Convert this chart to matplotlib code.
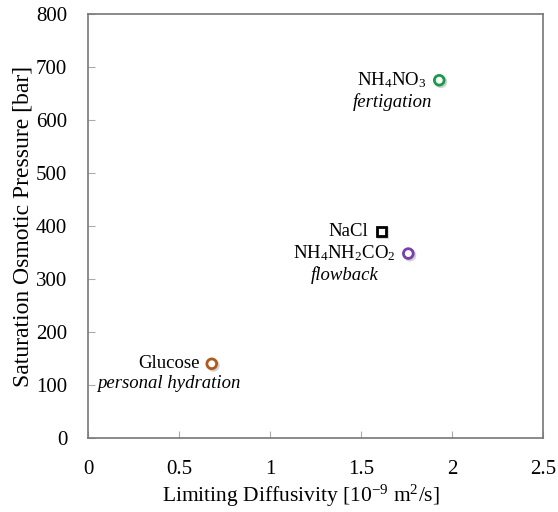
import numpy as np
import matplotlib.pyplot as plt
import matplotlib.patheffects as pe

plt.rcParams['font.family'] = ['Liberation Serif', 'DejaVu Serif']
plt.rcParams['mathtext.fontset'] = 'custom'
plt.rcParams['mathtext.rm'] = 'Liberation Serif'
plt.rcParams['mathtext.it'] = 'Liberation Serif:italic'

# data
names = ['NH$_4$NO$_3$', 'NaCl', 'NH$_4$NH$_2$CO$_2$', 'Glucose']
uses = ['fertigation', '', 'flowback', 'personal hydration']
diff = [1.93, 1.61, 1.76, 0.68]
press = [675, 390, 348, 140]
colors = ['#1a9a4a', 'black', '#7a3fa8', '#b2581a']
markers = ['o', 's', 'o', 'o']

fig = plt.figure(figsize=(5.58, 5.12), dpi=100)
ax = fig.add_axes([88/558, 1-438/512, 455/558, 424/512])

shadow = [pe.SimpleLineShadow(offset=(1.2, -1.2), alpha=0.35, shadow_color='gray'), pe.Normal()]
for x, y, c, m in zip(diff, press, colors, markers):
    ax.plot(x, y, marker=m, ms=7 if m == 'o' else 6.5, mfc='white', mec=c, mew=2,
            ls='none', path_effects=shadow)

# labels left of the markers, use centred under the name
for x, y, n, u in zip(diff, press, names, uses):
    t = ax.annotate(n, (x, y), xytext=(-9, 0), textcoords='offset points',
                    ha='right', va='center', fontsize=13.5)
    if u:
        ax.annotate(u, (0.5, 0), xycoords=t, xytext=(0, -2), textcoords='offset points',
                    ha='center', va='top', fontsize=13.5, style='italic')

ax.set_xlim(0, 2.5)
ax.set_ylim(0, 800)
ax.set_xticks([0, 0.5, 1, 1.5, 2, 2.5])
ax.set_xticklabels(['0', '0.5', '1', '1.5', '2', '2.5'])
ax.set_yticks(np.arange(0, 801, 100))
ax.tick_params(axis='x', direction='in', length=5, color='#aaaaaa', labelsize=15, pad=16)
ax.tick_params(axis='y', direction='in', length=5, color='#aaaaaa', labelsize=15, pad=15)
for s in ax.spines.values():
    s.set_color('#777777')
    s.set_linewidth(1.2)

ax.set_xlabel('Limiting Diffusivity [10$^{-9}$ m$^2$/s]', fontsize=15.5)
ax.xaxis.set_label_coords((301 - 88) / 455, -0.105)
ax.set_ylabel('Saturation Osmotic Pressure [bar]', fontsize=17, labelpad=2)

fig.savefig('out.png', dpi=100)
